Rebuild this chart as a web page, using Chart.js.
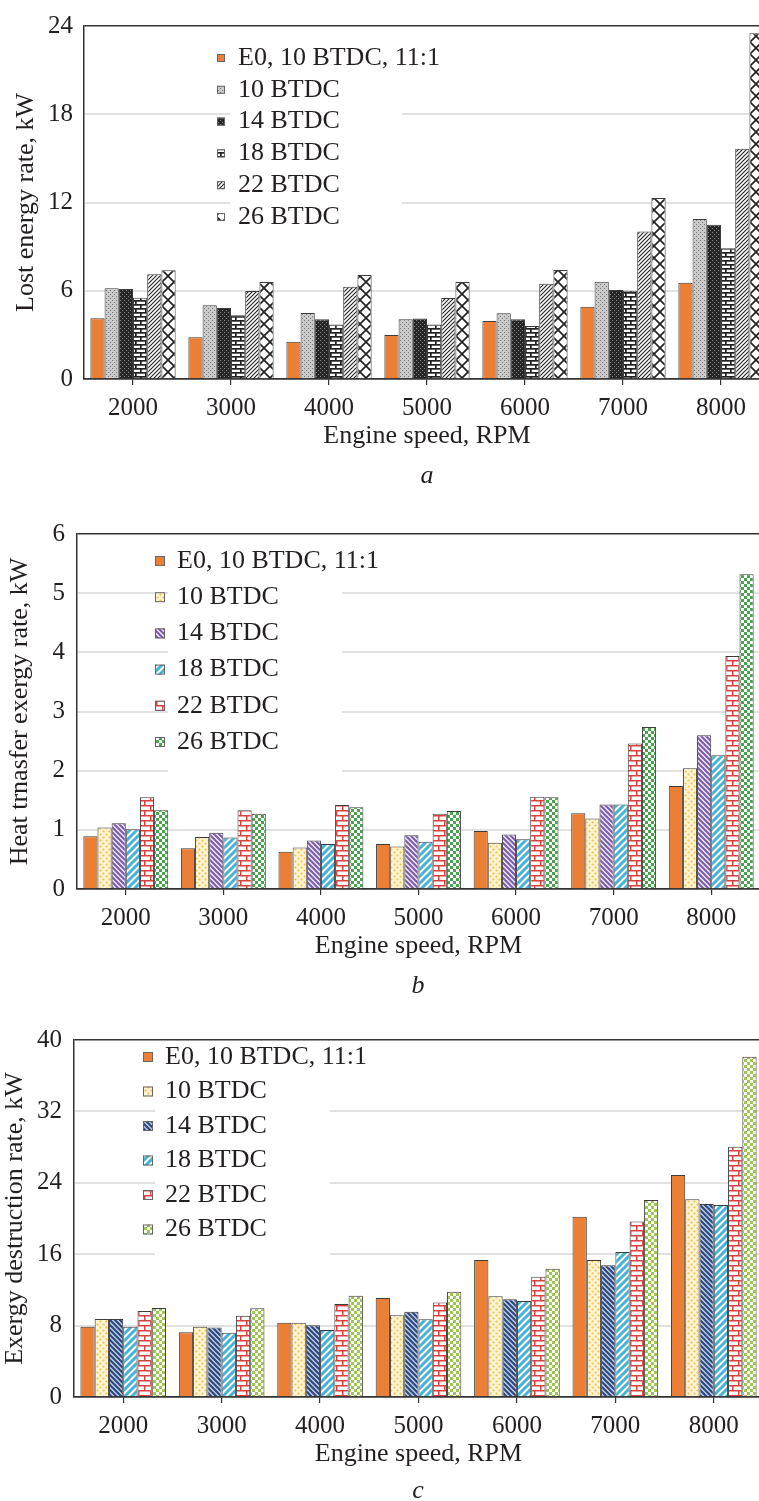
<!DOCTYPE html>
<html>
<head>
<meta charset="utf-8">
<script src="https://cdn.jsdelivr.net/npm/chart.js@4.4.0/dist/chart.umd.min.js"></script>
<style>
html, body { margin: 0; padding: 0; background: #fff; }
#page { position: relative; width: 759px; height: 1501px; overflow: hidden; }
canvas { position: absolute; left: 0; }
.cap { position: absolute; font: italic 26px "Liberation Serif", serif; color: #231f20; transform: translate(-50%, -50%); }
</style>
</head>
<body>
<div id="page">
  <canvas id="chartA" width="780" height="462" style="top:0px"></canvas>
  <canvas id="chartB" width="780" height="500" style="top:470px"></canvas>
  <canvas id="chartC" width="780" height="526" style="top:975px"></canvas>
  <div class="cap" style="left:427px; top:475px">a</div>
  <div class="cap" style="left:418px; top:985px">b</div>
  <div class="cap" style="left:418px; top:1490px">c</div>
</div>
<script>
// categories and series
const speeds = ['2000', '3000', '4000', '5000', '6000', '7000', '8000'];
const seriesNames = ['E0, 10 BTDC, 11:1', '10 BTDC', '14 BTDC', '18 BTDC', '22 BTDC', '26 BTDC'];

// (a) lost energy rate, kW
const lostE0 = [4.13, 2.84, 2.54, 2.99, 3.95, 4.92, 6.55];
const lost10 = [6.17, 5.01, 4.49, 4.06, 4.47, 6.62, 10.88];
const lost14 = [6.12, 4.83, 4.06, 4.12, 4.06, 6.05, 10.48];
const lost18 = [5.53, 4.33, 3.70, 3.70, 3.60, 6.00, 8.89];
const lost22 = [7.12, 5.99, 6.28, 5.50, 6.48, 10.02, 15.65];
const lost26 = [7.39, 6.60, 7.07, 6.60, 7.41, 12.31, 23.50];

// (b) heat transfer exergy rate, kW
const heatE0 = [0.89, 0.69, 0.63, 0.76, 0.98, 1.28, 1.74];
const heat10 = [1.04, 0.88, 0.70, 0.72, 0.78, 1.19, 2.04];
const heat14 = [1.11, 0.95, 0.82, 0.91, 0.92, 1.43, 2.60];
const heat18 = [1.01, 0.87, 0.76, 0.80, 0.84, 1.43, 2.26];
const heat22 = [1.55, 1.33, 1.42, 1.27, 1.56, 2.46, 3.94];
const heat26 = [1.33, 1.27, 1.38, 1.32, 1.55, 2.74, 5.32];

// (c) exergy destruction rate, kW
const destE0 = [7.88, 7.25, 8.33, 11.09, 15.35, 20.20, 24.87];
const dest10 = [8.74, 7.88, 8.33, 9.15, 11.30, 15.35, 22.15];
const dest14 = [8.74, 7.80, 8.03, 9.56, 10.94, 14.75, 21.62];
const dest18 = [7.88, 7.20, 7.50, 8.70, 10.75, 16.25, 21.51];
const dest22 = [9.64, 9.11, 10.42, 10.60, 13.48, 19.65, 28.05];
const dest26 = [9.97, 9.93, 11.35, 11.80, 14.38, 22.07, 38.13];

Chart.defaults.font.family = '"Liberation Serif", "Times New Roman", serif';
Chart.defaults.color = '#231f20';

function pat(w, h, bg, draw) {
  const c = document.createElement('canvas');
  c.width = w; c.height = h;
  const g = c.getContext('2d');
  g.fillStyle = bg;
  g.fillRect(0, 0, w, h);
  draw(g, w, h);
  return g.createPattern(c, 'repeat');
}
function lines(g, color, width, segs) {
  g.strokeStyle = color; g.lineWidth = width;
  g.beginPath();
  segs.forEach(s => { g.moveTo(s[0], s[1]); g.lineTo(s[2], s[3]); });
  g.stroke();
}

const orange = '#ec7f36';
const greyDots = pat(4, 4, '#cacaca', g => { g.fillStyle = '#777'; g.fillRect(0, 0, 1, 1); g.fillRect(2, 2, 1, 1); });
const darkDots = pat(4, 4, '#262626', g => { g.fillStyle = '#888'; g.fillRect(0, 0, 1, 1); g.fillRect(2, 2, 1, 1); });
const blackBricks = pat(10, 8, '#fff', g => {
  g.fillStyle = '#222';
  g.fillRect(0, 0, 10, 1.7); g.fillRect(0, 4, 10, 1.7);
  g.fillRect(0, 0, 1.7, 4); g.fillRect(5, 4, 1.7, 4);
});
const blackHatch = pat(4, 4, '#fff', g => lines(g, '#222', 1.1, [[0, 4, 4, 0], [-1, 1, 1, -1], [3, 5, 5, 3]]));
const blackWeave = pat(12, 12, '#fff', g => lines(g, '#222', 1.7, [[0, 0, 12, 12], [12, 0, 0, 12]]));

const yellowDots = pat(6, 6, '#fff4d2', g => {
  g.fillStyle = '#f2bd45';
  g.beginPath(); g.arc(1.5, 1.5, 1.1, 0, Math.PI * 2); g.arc(4.5, 4.5, 1.1, 0, Math.PI * 2); g.fill();
});
const purpleStripes = pat(5, 5, '#ece6f5', g => lines(g, '#7a5ca8', 2, [[-5, 0, 5, 10], [0, 0, 5, 5], [0, -5, 10, 5]]));
const navyStripes = pat(5, 5, '#b9cbe9', g => lines(g, '#2c4677', 2, [[-5, 0, 5, 10], [0, 0, 5, 5], [0, -5, 10, 5]]));
const cyanStripes = pat(7, 7, '#fff', g => lines(g, '#45b3d6', 3, [[-7, 7, 7, -7], [0, 7, 7, 0], [0, 14, 14, 0]]));
const redBricks = pat(12, 10, '#fff', g => {
  g.fillStyle = '#d9413f';
  g.fillRect(0, 0, 12, 1.5); g.fillRect(0, 5, 12, 1.5);
  g.fillRect(0, 0, 1.5, 5); g.fillRect(6, 5, 1.5, 5);
});
const greenCheck = pat(6, 6, '#fff', g => { g.fillStyle = '#48a44c'; g.fillRect(0, 0, 3, 3); g.fillRect(3, 3, 3, 3); });
const limeCheck = pat(6, 6, '#fff', g => { g.fillStyle = '#9cc64c'; g.fillRect(0, 0, 3, 3); g.fillRect(3, 3, 3, 3); });

const legendBox = {
  id: 'legendBox',
  afterDraw(chart, args, o) {
    const ctx = chart.ctx;
    const off = o.canvasTop;
    ctx.save();
    ctx.fillStyle = '#fff';
    ctx.fillRect(o.bg[0], o.bg[1] - off, o.bg[2], o.bg[3]);
    ctx.font = '26px "Liberation Serif", serif';
    ctx.textBaseline = 'middle';
    chart.data.datasets.forEach((ds, i) => {
      const y = o.y0 + i * o.dy - off;
      ctx.fillStyle = ds.backgroundColor;
      ctx.fillRect(o.boxX, y - o.box / 2, o.box, o.box);
      ctx.strokeStyle = '#666'; ctx.lineWidth = 1;
      ctx.strokeRect(o.boxX + 0.5, y - o.box / 2 + 0.5, o.box - 1, o.box - 1);
      ctx.fillStyle = '#231f20';
      ctx.fillText(ds.label, o.textX, y);
    });
    ctx.restore();
  }
};

function makeChart(id, c) {
  const canvas = document.getElementById(id);
  const H = canvas.height, W = canvas.width;
  const xHeight = 73;
  const a = c.area;
  new Chart(canvas, {
    type: 'bar',
    data: {
      labels: speeds,
      datasets: c.values.map((v, i) => ({
        label: seriesNames[i],
        data: v,
        backgroundColor: c.fills[i],
        borderColor: '#3c3c3c',
        borderWidth: 1,
        categoryPercentage: 0.87,
        barPercentage: 1
      }))
    },
    options: {
      responsive: false,
      animation: false,
      layout: { padding: { top: a.top - c.canvasTop, left: 0, right: W - a.right, bottom: H - (a.bottom - c.canvasTop + xHeight) } },
      plugins: {
        legend: { display: false },
        tooltip: { enabled: false },
        legendBox: Object.assign({ canvasTop: c.canvasTop }, c.legend)
      },
      scales: {
        x: {
          afterFit: s => { s.height = xHeight; },
          grid: { display: true, drawOnChartArea: false, drawTicks: true, tickLength: 6, offset: false, color: '#333', lineWidth: 1.2 },
          border: { display: true, color: '#333', width: 1.5 },
          ticks: { font: { size: 25 }, padding: 8, maxRotation: 0, autoSkip: false },
          title: { display: true, text: 'Engine speed, RPM', font: { size: 26 }, padding: { top: 0, bottom: 0 } }
        },
        y: {
          min: 0, max: c.max,
          afterFit: s => { s.width = a.left; },
          ticks: { stepSize: c.step, font: { size: 25 }, padding: c.tickPad },
          grid: {
            drawTicks: false,
            color: t => (t.tick.value === c.max || t.tick.value === 0) ? '#333' : '#e1e1e1',
            lineWidth: t => (t.tick.value === c.max || t.tick.value === 0) ? 1.5 : 2
          },
          border: { display: true, color: '#333', width: 1.5 },
          title: { display: true, text: c.yTitle, font: { size: 26 }, padding: { top: c.titlePad, bottom: 0 } }
        }
      }
    },
    plugins: [legendBox]
  });
}

makeChart('chartA', {
  canvasTop: 0,
  area: { top: 26, bottom: 379, left: 84, right: 770 },
  values: [lostE0, lost10, lost14, lost18, lost22, lost26],
  fills: [orange, greyDots, darkDots, blackBricks, blackHatch, blackWeave],
  max: 24, step: 6, tickPad: 11, titlePad: 11,
  yTitle: 'Lost energy rate, kW',
  legend: { boxX: 217, box: 8, textX: 238, y0: 58, dy: 31.8, bg: [230, 40, 172, 192] }
});

makeChart('chartB', {
  canvasTop: 470,
  area: { top: 534, bottom: 889, left: 77, right: 760 },
  values: [heatE0, heat10, heat14, heat18, heat22, heat26],
  fills: [orange, yellowDots, purpleStripes, cyanStripes, redBricks, greenCheck],
  max: 6, step: 1, tickPad: 12, titlePad: 5,
  yTitle: 'Heat trnasfer exergy rate, kW',
  legend: { boxX: 155, box: 10, textX: 177, y0: 561, dy: 36.2, bg: [168, 545, 174, 235] }
});

makeChart('chartC', {
  canvasTop: 975,
  area: { top: 1040, bottom: 1397, left: 74, right: 763 },
  values: [destE0, dest10, dest14, dest18, dest22, dest26],
  fills: [orange, yellowDots, navyStripes, cyanStripes, redBricks, limeCheck],
  max: 40, step: 8, tickPad: 12, titlePad: 0,
  yTitle: 'Exergy destruction rate, kW',
  legend: { boxX: 143, box: 10, textX: 165, y0: 1057, dy: 34.5, bg: [155, 1045, 175, 217] }
});
</script>
</body>
</html>
